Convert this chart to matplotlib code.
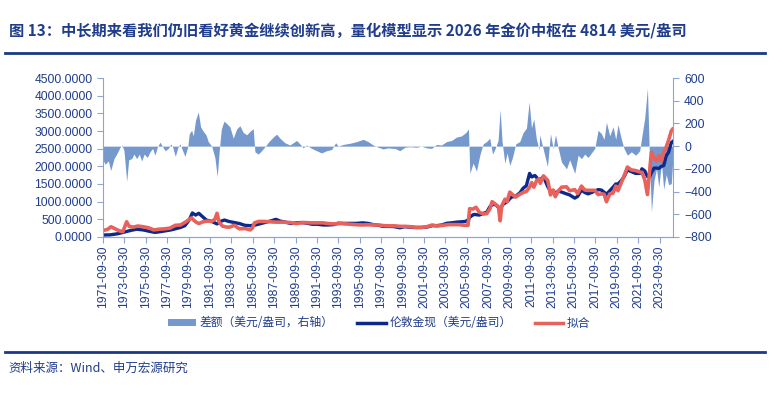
import numpy as np
import pandas as pd
import matplotlib
matplotlib.use("Agg")
import matplotlib.pyplot as plt
import matplotlib.dates as mdates
from matplotlib.patches import Patch
from matplotlib.lines import Line2D

plt.rcParams['font.family'] = ['Liberation Sans', 'Noto Sans CJK SC', 'DejaVu Sans']

TITLE = "图 13：中长期来看我们仍旧看好黄金继续创新高，量化模型显示 2026 年金价中枢在 4814 美元/盎司"
SOURCE = "资料来源：Wind、申万宏源研究"
LABELS = ["差额（美元/盎司，右轴）", "伦敦金现（美元/盎司）", "拟合"]

# 差额 (right axis), decimal years
diff_years = [1971.75, 1971.94, 1972.25, 1972.47, 1972.78, 1973.08, 1973.34, 1973.52, 1973.71, 1973.96,
              1974.15, 1974.43, 1974.64, 1974.9, 1975.14, 1975.36, 1975.6, 1975.89, 1976.14, 1976.39,
              1976.6, 1976.82, 1977.07, 1977.26, 1977.54, 1977.85, 1978.1, 1978.26, 1978.5, 1978.75,
              1978.94, 1979.15, 1979.4, 1979.66, 1979.81, 1980.03, 1980.18, 1980.4, 1980.65, 1980.87,
              1981.12, 1981.37, 1981.58, 1981.9, 1982.2, 1982.42, 1982.6, 1982.8, 1983.05, 1983.3,
              1983.6, 1983.92, 1984.23, 1984.54, 1984.85, 1985.17, 1985.48, 1985.78, 1985.94, 1986.25,
              1986.57, 1986.88, 1987.25, 1987.65, 1987.97, 1988.28, 1988.74, 1989.21, 1989.83, 1990.14,
              1990.45, 1990.77, 1991.24, 1991.7, 1992.17, 1992.64, 1993.1, 1993.48, 1993.72, 1994.19,
              1994.81, 1995.44, 1996.06, 1996.52, 1996.99, 1997.46, 1997.92, 1998.39, 1998.86, 1999.01,
              1999.48, 1999.95, 2000.41, 2001.04, 2001.5, 2001.97, 2002.44, 2002.91, 2003.37, 2003.84,
              2004.31, 2004.78, 2005.24, 2005.64, 2005.89, 2006.02, 2006.33, 2006.64, 2006.95, 2007.26,
              2007.58, 2007.88, 2008.14, 2008.35, 2008.66, 2008.85, 2009.04, 2009.29, 2009.5, 2009.75,
              2010.0, 2010.31, 2010.68, 2011.0, 2011.31, 2011.56, 2011.78, 2011.99, 2012.24, 2012.49,
              2012.55, 2012.86, 2013.27, 2013.55, 2013.8, 2014.02, 2014.26, 2014.58, 2015.05, 2015.35,
              2015.82, 2016.13, 2016.45, 2016.75, 2017.06, 2017.38, 2017.69, 2018.0, 2018.31, 2018.56,
              2018.78, 2019.09, 2019.4, 2019.65, 2019.86, 2020.18, 2020.42, 2020.74, 2021.11, 2021.52,
              2021.89, 2022.11, 2022.36, 2022.61, 2022.8, 2022.98, 2023.23, 2023.46, 2023.67, 2023.92,
              2024.13, 2024.37, 2024.59, 2024.84, 2024.96]
diff_vals = [-120, -160, -130, -215, -110, -60, -10, 10, -40, -310,
             -120, -110, -70, -110, -70, -130, -70, -100, -50, -20,
             -80, -10, 35, 5, -40, -20, 20, -10, -90, -10,
             20, -30, -90, -10, 110, 140, 90, 230, 300, 170,
             130, 100, 40, 0, -100, -270, -50, 150, 220, 200,
             170, 70, 150, 180, 120, 100, 130, 155, -50, -70,
             -40, -5, 40, 80, 105, 70, 30, 10, 50, 20,
             -15, 10, -20, -40, -60, -40, -30, 30, 0, 15,
             25, 40, 60, 40, 10, -10, -25, -15, -20, -20,
             -40, -10, -5, -10, 0, -15, -20, 15, 10, 40,
             50, 80, 90, 120, 150, -240, -150, -220, -80, 20,
             40, 70, -70, -30, 50, 320, 30, -150, -60, -170,
             -100, 20, 40, 120, 160, 390, 160, 240, 60, -30,
             100, -20, -180, 110, -20, 100, -10, -140, -200, -120,
             -240, -80, -110, -70, -100, -60, -20, 140, 110, 60,
             210, 90, 170, 60, 190, 60, -20, -80, -50, -80,
             -40, 100, 250, 510, -100, -580, -300, -200, -360, -150,
             -380, -250, -340, -330, -150]

# 伦敦金现 (left axis)
gold_years = [1971.75, 1972.4, 1973.1, 1973.5, 1974.0, 1974.4, 1974.9, 1975.5, 1976.1, 1976.6,
              1977.1, 1977.5, 1978.1, 1978.5, 1979.0, 1979.4, 1979.8, 1980.1, 1980.4, 1980.7,
              1981.1, 1981.4, 1981.9, 1982.4, 1982.8, 1983.1, 1983.5, 1984.0, 1984.5, 1985.0,
              1985.5, 1986.0, 1986.5, 1987.0, 1987.5, 1987.9, 1988.3, 1988.8, 1989.3, 1989.8,
              1990.3, 1990.8, 1991.3, 1991.8, 1992.3, 1992.8, 1993.3, 1993.7, 1994.2, 1994.8,
              1995.4, 1996.0, 1996.5, 1997.0, 1997.5, 1997.9, 1998.4, 1998.9, 1999.5, 1999.9,
              2000.4, 2001.0, 2001.5, 2002.0, 2002.5, 2002.9, 2003.4, 2003.9, 2004.3, 2004.8,
              2005.2, 2005.6, 2005.9, 2006.0, 2006.4, 2006.9, 2007.3, 2007.6, 2007.9, 2008.2,
              2008.5, 2008.85, 2009.1, 2009.5, 2009.9, 2010.3, 2010.7, 2011.0, 2011.3, 2011.6,
              2011.8, 2012.1, 2012.5, 2012.9, 2013.3, 2013.55, 2013.8, 2014.0, 2014.3, 2014.6,
              2015.05, 2015.35, 2015.82, 2016.1, 2016.45, 2016.75, 2017.06, 2017.4, 2017.7, 2018.0,
              2018.3, 2018.56, 2018.78, 2019.1, 2019.4, 2019.65, 2019.86, 2020.18, 2020.42, 2020.74,
              2021.1, 2021.5, 2021.9, 2022.1, 2022.36, 2022.61, 2022.8, 2022.98, 2023.23, 2023.46,
              2023.67, 2023.92, 2024.13, 2024.37, 2024.59, 2024.84, 2024.96]
gold_vals = [55, 60, 90, 120, 160, 190, 220, 200, 160, 130,
             150, 170, 200, 230, 270, 320, 480, 680, 620, 670,
             560, 480, 440, 370, 450, 480, 440, 410, 380, 330,
             320, 340, 380, 420, 460, 500, 450, 420, 380, 400,
             410, 390, 360, 360, 340, 340, 350, 390, 385, 385,
             385, 400, 385, 350, 330, 300, 300, 295, 260, 290,
             280, 265, 270, 280, 320, 320, 340, 390, 400, 420,
             430, 440, 490, 560, 640, 620, 670, 700, 860, 930,
             900, 780, 920, 1000, 1130, 1150, 1250, 1380, 1450, 1800,
             1700, 1740, 1600, 1710, 1420, 1300, 1310, 1240, 1300, 1270,
             1220, 1190, 1100, 1150, 1330, 1260, 1220, 1260, 1300, 1340,
             1330, 1270, 1210, 1310, 1410, 1500, 1500, 1600, 1700, 1900,
             1850, 1800, 1800, 1930, 1870, 1710, 1700, 1820, 1950, 1950,
             1940, 2000, 2020, 2300, 2400, 2670, 2700]

# 拟合 (left axis)
fit_years = [1971.75, 1972.2, 1972.5, 1972.9, 1973.3, 1973.6, 1973.96, 1974.2, 1974.6, 1975.0,
             1975.5, 1976.0, 1976.5, 1977.0, 1977.5, 1978.0, 1978.5, 1979.0, 1979.5, 1980.0,
             1980.4, 1980.7, 1981.1, 1981.5, 1981.9, 1982.2, 1982.4, 1982.6, 1982.9, 1983.3,
             1983.6, 1984.0, 1984.5, 1985.0, 1985.5, 1985.7, 1985.9, 1986.3, 1986.8, 1987.3,
             1987.9, 1988.5, 1989.2, 1989.8, 1990.5, 1991.2, 1991.8, 1992.3, 1992.8, 1993.3,
             1994.0, 1994.8, 1995.5, 1996.0, 1996.5, 1997.0, 1997.5, 1998.0, 1998.5, 1999.0,
             1999.5, 2000.0, 2000.5, 2001.0, 2001.5, 2002.0, 2002.5, 2003.0, 2003.5, 2004.0,
             2004.5, 2005.0, 2005.5, 2005.85, 2006.0, 2006.3, 2006.6, 2006.9, 2007.3, 2007.6,
             2007.9, 2008.1, 2008.4, 2008.7, 2008.85, 2009.0, 2009.3, 2009.5, 2009.75, 2010.0,
             2010.3, 2010.7, 2011.0, 2011.3, 2011.6, 2011.8, 2012.0, 2012.25, 2012.5, 2012.6,
             2012.9, 2013.3, 2013.55, 2013.8, 2014.0, 2014.3, 2014.6, 2015.05, 2015.35, 2015.82,
             2016.1, 2016.45, 2016.75, 2017.06, 2017.4, 2017.7, 2018.0, 2018.3, 2018.56, 2018.78,
             2019.1, 2019.4, 2019.65, 2019.86, 2020.18, 2020.42, 2020.74, 2021.1, 2021.5, 2021.9,
             2022.1, 2022.36, 2022.61, 2022.8, 2022.98, 2023.23, 2023.46, 2023.67, 2023.92, 2024.13,
             2024.37, 2024.59, 2024.84, 2024.96]
fit_vals = [180, 220, 290, 230, 170, 150, 430, 300, 280, 310,
            290, 260, 200, 220, 230, 250, 330, 340, 430, 540,
            430, 380, 430, 450, 440, 500, 670, 420, 310, 280,
            280, 330, 230, 240, 200, 250, 400, 440, 440, 430,
            420, 420, 410, 380, 410, 400, 400, 400, 380, 370,
            380, 360, 345, 340, 345, 340, 340, 320, 315, 315,
            300, 300, 290, 275, 270, 290, 340, 310, 330, 350,
            350, 350, 330, 330, 800, 790, 840, 700, 650, 660,
            800, 1000, 930, 850, 460, 880, 1070, 1000, 1270, 1200,
            1130, 1210, 1260, 1290, 1410, 1540, 1410, 1590, 1650, 1520,
            1730, 1600, 1190, 1330, 1140, 1310, 1410, 1420, 1310, 1340,
            1230, 1440, 1330, 1320, 1320, 1320, 1200, 1220, 1210, 1000,
            1220, 1240, 1440, 1310, 1540, 1720, 1980, 1900, 1880, 1840,
            1830, 1620, 1200, 1800, 2400, 2250, 2150, 2300, 2150, 2400,
            2550, 2740, 3000, 3050]


def to_dates(years):
    years = np.asarray(years, dtype=float)
    base = pd.to_datetime(np.floor(years).astype(int).astype(str) + "-01-01")
    return base + pd.to_timedelta((years % 1) * 365.25, unit="D")


TEXT = '#1f3d8c'
AXC = '#8fa4d2'
AREA = '#7699cd'
NAVY = '#0c2a8c'
RED = '#e8615a'

fig = plt.figure(figsize=(7.74, 3.93), dpi=100)
ax = fig.add_axes([0.133, 0.397, 0.7365, 0.4045])
ax2 = ax.twinx()
ax.set_zorder(2)
ax2.set_zorder(1)
ax.patch.set_visible(False)

dd = to_dates(diff_years)
ax2.fill_between(dd, diff_vals, 0, color=AREA, lw=0)
ax2.set_ylim(-800, 600)
ax2.set_yticks(np.arange(-800, 601, 200))

ax.plot(to_dates(gold_years), gold_vals, color=NAVY, lw=2.4)
ax.plot(to_dates(fit_years), fit_vals, color=RED, lw=2.6)
ax.set_ylim(0, 4500)
ax.set_yticks(np.arange(0, 4501, 500))
ax.yaxis.set_major_formatter(matplotlib.ticker.FuncFormatter(lambda v, p: f"{v:.4f}"))

ticks = [pd.Timestamp(f"{y}-09-30") for y in range(1971, 2024, 2)]
ax.set_xticks(ticks)
ax.xaxis.set_major_formatter(mdates.DateFormatter("%Y-%m-%d"))
ax.set_xlim(pd.Timestamp("1971-09-30"), pd.Timestamp("2024-12-31"))

for a in (ax, ax2):
    for s in a.spines.values():
        s.set_color(AXC)
    a.spines['top'].set_visible(False)
    a.tick_params(colors=AXC, labelcolor=TEXT, labelsize=8.7, length=4, width=0.8)
ax.spines['right'].set_visible(False)
ax2.spines['left'].set_visible(False)
ax.tick_params(axis='x', rotation=90, pad=2)
ax2.tick_params(axis='y', pad=4)

fig.text(0.011, 1 - 31 / 393, TITLE, fontsize=11, fontweight='bold', color=TEXT,
         va='center', family=['Noto Sans CJK SC', 'DejaVu Sans'])
fig.add_artist(Line2D([0.007, 0.988], [1 - 53 / 393] * 2, color='#1a3a86', lw=2))
fig.add_artist(Line2D([0.007, 0.988], [1 - 352 / 393] * 2, color='#1a3a86', lw=2))
fig.text(0.011, 1 - 368 / 393, SOURCE, fontsize=9, color=TEXT, va='center',
         family=['Noto Sans CJK SC', 'DejaVu Sans'])

handles = [Patch(facecolor=AREA, edgecolor='none'),
           Line2D([], [], color=NAVY, lw=2.5),
           Line2D([], [], color=RED, lw=2.5)]
fig.legend(handles, LABELS, loc='center', bbox_to_anchor=(0.49, 1 - 323 / 393), ncol=3,
           frameon=False, fontsize=8.5, handlelength=2.4, handleheight=0.6,
           columnspacing=2.0, handletextpad=0.3, labelcolor=TEXT,
           prop={'family': ['Noto Sans CJK SC', 'DejaVu Sans'], 'size': 8.5})

fig.savefig("out.png", dpi=100)
